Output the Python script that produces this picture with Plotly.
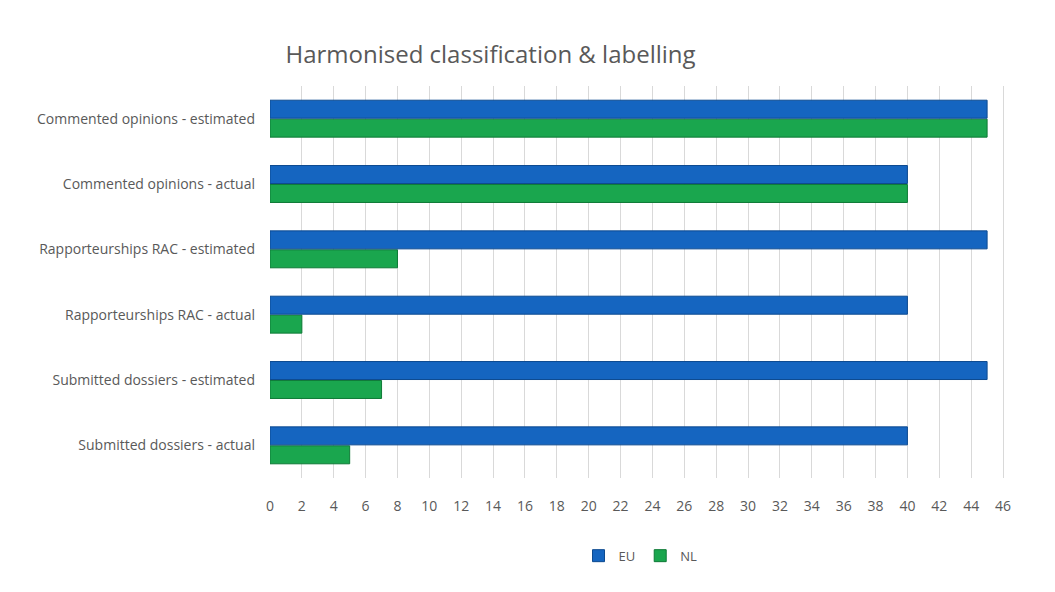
import plotly.graph_objects as go

categories = [
    "Submitted dossiers - actual",
    "Submitted dossiers - estimated",
    "Rapporteurships RAC - actual",
    "Rapporteurships RAC - estimated",
    "Commented opinions - actual",
    "Commented opinions - estimated",
]
eu_values = [40, 45, 40, 45, 40, 45]
nl_values = [5, 7, 2, 8, 40, 45]
tick_values = list(range(0, 48, 2))

fig = go.Figure()
fig.add_trace(go.Bar(y=categories, x=nl_values, name="NL", orientation="h",
                     marker=dict(color="#1AA64E", line=dict(color="#0E7A36", width=1))))
fig.add_trace(go.Bar(y=categories, x=eu_values, name="EU", orientation="h",
                     marker=dict(color="#1565C0", line=dict(color="#0D4A90", width=1))))

fig.update_layout(
    width=1055, height=592,
    paper_bgcolor="white", plot_bgcolor="white",
    font=dict(family="Open Sans", color="#595959", size=14),
    title=dict(text="Harmonised classification &amp; labelling", x=0.263, xanchor="left",
               y=0.935, font=dict(size=24, color="#595959")),
    barmode="group", bargap=0.42, bargroupgap=0.05,
    margin=dict(l=262, r=52, t=78, b=122),
    legend=dict(orientation="h", x=0.5, xanchor="center", y=-0.16, yanchor="top",
                traceorder="reversed", font=dict(size=13)),
    xaxis=dict(range=[0, 46.5], tickvals=tick_values, showgrid=True, gridcolor="#D9D9D9",
               zeroline=False, ticklabelstandoff=18, tickfont=dict(size=14)),
    yaxis=dict(showgrid=False, ticklabelstandoff=14, tickfont=dict(size=14)),
)

fig.write_html("out.html")
